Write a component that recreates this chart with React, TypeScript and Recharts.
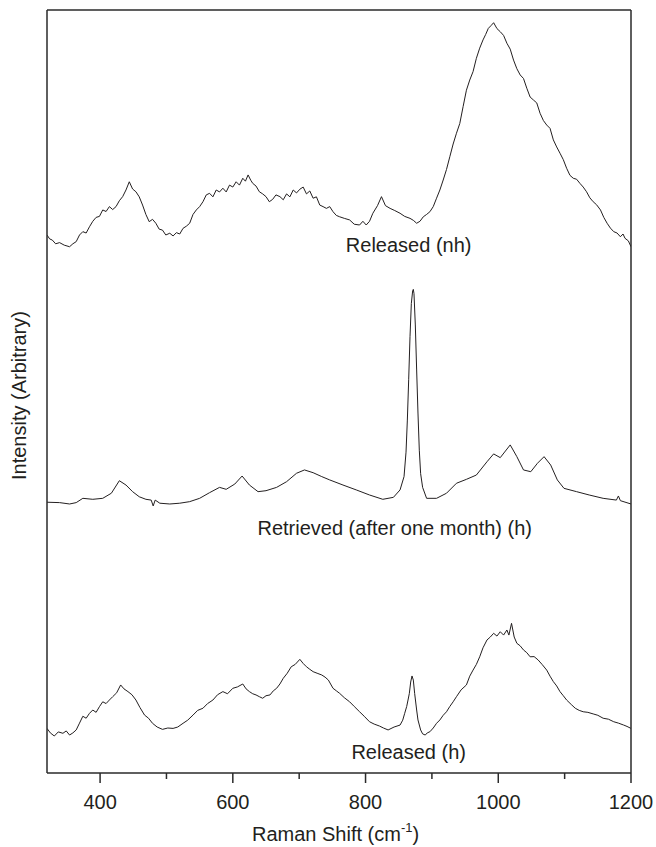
import { LineChart, Line, XAxis, YAxis, ReferenceDot, Label } from 'recharts';

// ---- Raman spectra (shift in cm-1, intensity in arbitrary units, offset per trace) ----

// Released (nh) – top trace
const nhShift = [320, 324, 328, 333, 339, 346, 354, 359, 364, 369, 374, 379, 384, 389, 394, 399, 404, 409, 414, 419, 424, 429, 434, 439, 444, 449, 454, 459, 464, 469, 474, 479, 484, 489, 494, 499, 505, 510, 515, 520, 525, 530, 535, 540, 545, 550, 555, 560, 565, 570, 575, 580, 585, 590, 595, 600, 605, 610, 615, 619, 623, 627, 630, 635, 640, 645, 650, 655, 660, 665, 671, 676, 681, 686, 691, 696, 701, 706, 711, 716, 721, 726, 731, 736, 741, 746, 751, 756, 761, 768, 776, 783, 791, 796, 801, 806, 811, 818, 824, 830, 837, 844, 852, 859, 867, 872, 877, 882, 887, 892, 897, 902, 907, 912, 917, 922, 927, 932, 937, 942, 947, 952, 957, 962, 967, 972, 977, 981, 985, 989, 993, 998, 1003, 1008, 1013, 1018, 1023, 1028, 1033, 1038, 1043, 1048, 1053, 1058, 1063, 1068, 1073, 1078, 1083, 1088, 1093, 1098, 1103, 1108, 1113, 1118, 1123, 1128, 1133, 1138, 1143, 1148, 1154, 1159, 1164, 1169, 1174, 1179, 1184, 1188, 1191, 1196, 1200];
const nhIntensity = [27.5, 27.3, 27.24, 27.05, 27.11, 26.98, 26.9, 27.05, 27.16, 27.5, 27.67, 27.6, 27.92, 28.2, 28.4, 28.45, 28.78, 28.7, 28.95, 28.8, 28.95, 29.25, 29.46, 29.8, 30.22, 29.85, 29.71, 29.45, 29.03, 28.55, 28.18, 28.3, 28.1, 27.8, 27.75, 27.5, 27.59, 27.45, 27.62, 27.55, 27.84, 27.95, 28.1, 28.55, 28.78, 28.95, 29.2, 29.55, 29.63, 29.45, 29.8, 29.7, 29.89, 29.7, 30.05, 29.95, 30.22, 30.05, 30.4, 30.25, 30.57, 30.3, 30.14, 30.0, 29.71, 29.6, 29.46, 29.2, 29.32, 29.55, 29.46, 29.3, 29.6, 29.45, 29.8, 29.65, 29.84, 29.95, 29.6, 29.75, 29.38, 29.45, 29.03, 28.95, 28.86, 28.95, 28.69, 28.5, 28.43, 28.35, 28.27, 28.05, 28.01, 28.2, 28.01, 28.2, 28.61, 29.0, 29.46, 29.0, 28.86, 28.75, 28.61, 28.45, 28.35, 28.25, 28.1, 28.2, 28.43, 28.55, 28.69, 28.95, 29.38, 29.8, 30.31, 30.85, 31.5, 32.15, 32.7, 33.2, 34.06, 34.9, 35.42, 35.85, 36.53, 37.05, 37.47, 37.75, 38.06, 38.2, 38.35, 38.05, 37.89, 37.7, 37.3, 37.0, 36.44, 36.0, 35.68, 35.5, 35.0, 34.55, 34.4, 34.25, 33.72, 33.35, 33.12, 32.95, 32.36, 32.0, 31.68, 31.35, 30.91, 30.55, 30.4, 30.35, 30.14, 29.95, 29.71, 29.4, 29.2, 29.05, 28.78, 28.4, 28.1, 27.85, 27.67, 27.6, 27.41, 27.55, 27.33, 27.2, 26.9];

// Retrieved (after one month) (h) – middle trace
const retShift = [320, 339, 354, 364, 374, 389, 404, 417, 429, 439, 449, 459, 469, 477, 480, 483, 490, 505, 520, 535, 550, 565, 580, 590, 603, 614, 625, 638, 650, 666, 681, 696, 708, 721, 734, 746, 766, 786, 806, 826, 842, 852, 858, 861, 863, 865, 867, 869, 871, 872, 873, 875, 877, 879, 881, 883, 886, 892, 907, 922, 937, 952, 967, 983, 993, 1003, 1018, 1028, 1038, 1049, 1059, 1069, 1079, 1089, 1099, 1118, 1137, 1158, 1178, 1181, 1184, 1200];
const retIntensity = [13.84, 13.82, 13.75, 13.82, 14.04, 13.99, 14.04, 14.3, 14.94, 14.72, 14.38, 14.12, 13.99, 13.95, 13.65, 13.95, 13.79, 13.75, 13.79, 13.87, 14.04, 14.33, 14.6, 14.5, 14.77, 15.18, 14.72, 14.38, 14.43, 14.6, 14.89, 15.32, 15.49, 15.35, 15.15, 14.98, 14.72, 14.47, 14.21, 13.99, 14.09, 14.47, 15.15, 16.4, 18.04, 20.1, 22.3, 24.0, 24.65, 24.72, 24.5, 22.9, 20.6, 18.4, 16.5, 15.3, 14.6, 14.04, 14.04, 14.3, 14.81, 15.01, 15.23, 15.91, 16.31, 16.12, 16.77, 16.17, 15.49, 15.4, 15.83, 16.17, 15.74, 14.98, 14.55, 14.38, 14.21, 14.04, 13.95, 14.16, 13.92, 13.75];

// Released (h) – bottom trace
const hShift = [320, 325, 331, 337, 344, 349, 354, 359, 364, 369, 374, 379, 384, 389, 394, 399, 404, 409, 414, 419, 425, 431, 436, 442, 448, 454, 460, 467, 473, 479, 486, 494, 502, 510, 517, 525, 532, 540, 547, 555, 562, 570, 577, 585, 592, 600, 607, 615, 620, 625, 630, 635, 640, 645, 650, 656, 661, 666, 671, 676, 682, 688, 694, 701, 706, 711, 716, 721, 727, 734, 739, 744, 751, 756, 761, 768, 776, 783, 791, 798, 806, 813, 821, 827, 834, 843, 852, 856, 859, 862, 864, 866, 868, 870, 872, 874, 877, 879, 883, 886, 890, 893, 897, 902, 907, 912, 917, 922, 927, 932, 937, 944, 952, 957, 962, 967, 972, 977, 983, 988, 993, 998, 1003, 1008, 1013, 1016, 1020, 1024, 1028, 1033, 1038, 1043, 1048, 1054, 1060, 1066, 1073, 1078, 1083, 1088, 1093, 1098, 1103, 1110, 1116, 1122, 1128, 1135, 1143, 1150, 1158, 1166, 1174, 1181, 1189, 1194, 1200];
const hIntensity = [2.28, 2.05, 1.89, 2.1, 2.03, 2.15, 1.94, 2.05, 2.2, 2.55, 2.9, 2.8, 3.05, 3.22, 3.1, 3.39, 3.64, 3.55, 3.73, 3.9, 4.1, 4.5, 4.3, 4.16, 4.0, 3.73, 3.35, 2.96, 2.8, 2.54, 2.35, 2.23, 2.3, 2.28, 2.35, 2.54, 2.7, 2.96, 3.2, 3.31, 3.55, 3.73, 4.0, 4.16, 4.05, 4.33, 4.4, 4.55, 4.3, 4.16, 4.05, 3.99, 3.9, 3.82, 3.95, 3.99, 4.2, 4.33, 4.55, 4.84, 5.1, 5.43, 5.55, 5.81, 5.6, 5.43, 5.3, 5.18, 5.1, 5.01, 4.9, 4.75, 4.33, 4.2, 4.07, 3.85, 3.64, 3.4, 3.13, 2.9, 2.62, 2.5, 2.4, 2.3, 2.2, 2.35, 2.45, 2.7, 3.05, 3.4, 3.73, 4.07, 4.65, 4.96, 4.75, 4.07, 3.22, 2.71, 2.2, 2.0, 1.94, 2.05, 2.11, 2.3, 2.54, 2.71, 2.95, 3.13, 3.4, 3.64, 3.9, 4.25, 4.5, 4.95, 5.26, 5.55, 5.94, 6.4, 6.8, 6.95, 7.14, 7.0, 7.22, 7.05, 7.31, 7.05, 7.65, 6.95, 6.63, 6.5, 6.29, 6.15, 5.94, 5.95, 5.78, 5.55, 5.26, 4.95, 4.67, 4.45, 4.16, 3.95, 3.73, 3.5, 3.31, 3.2, 3.13, 3.1, 3.02, 2.95, 2.8, 2.75, 2.62, 2.55, 2.45, 2.38, 2.28];

const majorTicks = [400, 600, 800, 1000, 1200];
const allTicks = [400, 500, 600, 700, 800, 900, 1000, 1100, 1200];
const yTicks = Array.from({ length: 40 }, (_, i) => i);

const traceLabels = [
  { text: 'Released (nh)', shift: 865, intensity: 26.99 },
  { text: 'Retrieved (after one month) (h)', shift: 844, intensity: 12.52 },
  { text: 'Released (h)', shift: 865, intensity: 1.09 },
];

const FONT = '"Liberation Sans", Arial, Helvetica, sans-serif';
const INK = '#231f20';
const AXIS = '#2a2a2a';

const toPoints = (xs: number[], ys: number[]) => xs.map((x, i) => ({ shift: x, intensity: ys[i] }));

const nhData = toPoints(nhShift, nhIntensity);
const retData = toPoints(retShift, retIntensity);
const hData = toPoints(hShift, hIntensity);

// bottom ticks: long + label on the majors, short on the minors
const BottomTick = (props: any) => {
  const { x, y, payload } = props;
  const major = majorTicks.includes(payload.value);
  return (
    <g>
      <line x1={x} y1={y} x2={x} y2={y + (major ? 10 : 6)} stroke={AXIS} strokeWidth={1.5} />
      {major && (
        <text x={x} y={y + 22} dy="0.71em" textAnchor="middle" fill={INK} fontSize={20} fontFamily={FONT}>
          {payload.value}
        </text>
      )}
    </g>
  );
};

const XTitle = () => (
  <text x={252} y={841} fill={INK} fontSize={20} fontFamily={FONT}>
    Raman Shift (cm
    <tspan fontSize={13} dy={-9}>-1</tspan>
    <tspan dy={9}>)</tspan>
  </text>
);

const YTitle = () => (
  <text x={26} y={480} fill={INK} fontSize={20} fontFamily={FONT} transform="rotate(-90, 26, 480)">
    Intensity (Arbitrary)
  </text>
);

export default function App() {
  return (
    <div style={{ position: 'absolute', left: 0, top: 0, background: '#fff', fontFamily: FONT }}>
      <LineChart width={656} height={847} margin={{ top: 9, right: 24, bottom: 0, left: 47 }}>
        <XAxis
          xAxisId={0}
          type="number"
          dataKey="shift"
          domain={[320, 1200]}
          ticks={allTicks}
          interval={0}
          allowDataOverflow
          height={74}
          tickSize={0}
          tickMargin={0}
          tickLine={false}
          stroke={AXIS}
          strokeWidth={1.5}
          tick={<BottomTick />}
        >
          <Label content={XTitle} />
        </XAxis>
        {/* top frame */}
        <XAxis
          xAxisId="top"
          orientation="top"
          type="number"
          dataKey="shift"
          domain={[320, 1200]}
          ticks={allTicks}
          interval={0}
          allowDataOverflow
          height={1}
          tickSize={3}
          tick={false}
          stroke={AXIS}
          strokeWidth={1.5}
        />
        <YAxis
          yAxisId={0}
          type="number"
          domain={[0, 39]}
          ticks={yTicks}
          interval={0}
          allowDataOverflow
          width={1}
          mirror
          tickSize={3}
          tick={false}
          stroke={AXIS}
          strokeWidth={1.5}
        >
          <Label content={YTitle} />
        </YAxis>
        <YAxis
          yAxisId="right"
          orientation="right"
          type="number"
          domain={[0, 39]}
          ticks={yTicks}
          interval={0}
          allowDataOverflow
          width={1}
          tickSize={3}
          tick={false}
          stroke={AXIS}
          strokeWidth={1.5}
        />

        <Line data={nhData} dataKey="intensity" stroke={INK} strokeWidth={1} dot={false} activeDot={false} isAnimationActive={false} type="linear" />
        <Line data={retData} dataKey="intensity" stroke={INK} strokeWidth={1} dot={false} activeDot={false} isAnimationActive={false} type="linear" />
        <Line data={hData} dataKey="intensity" stroke={INK} strokeWidth={1} dot={false} activeDot={false} isAnimationActive={false} type="linear" />

        {traceLabels.map((l) => (
          <ReferenceDot
            key={l.text}
            x={l.shift}
            y={l.intensity}
            r={0}
            fill="none"
            stroke="none"
            label={{ value: l.text, position: 'center', fill: INK, fontSize: 20, fontFamily: FONT }}
          />
        ))}
      </LineChart>
    </div>
  );
}
